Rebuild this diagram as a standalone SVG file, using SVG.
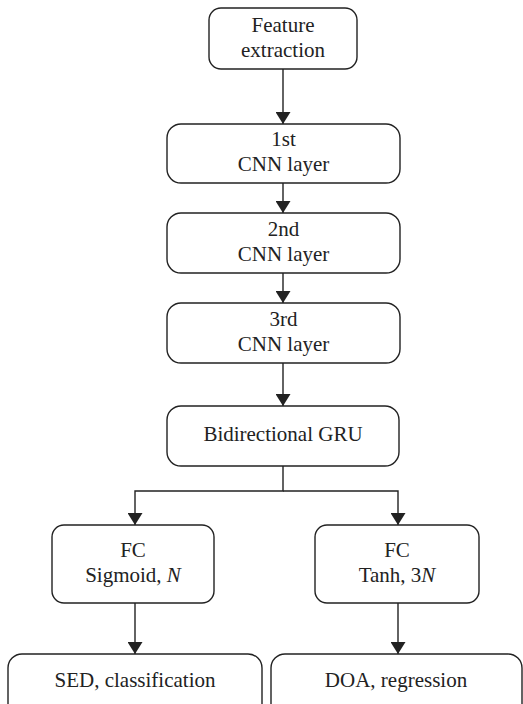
<svg xmlns="http://www.w3.org/2000/svg" width="523" height="704" viewBox="0 0 523 704">
  <style>
    .box { fill: #ffffff; stroke: #222222; stroke-width: 1.4; }
    .lbl { font-family: 'Liberation Serif', 'Times New Roman', Tinos, 'DejaVu Serif', serif; font-size: 21px; fill: #222222; text-anchor: middle; }
    .wire { fill: none; stroke: #222222; stroke-width: 1.4; }
  </style>
  <defs>
    <marker id="head" viewBox="0 0 12 15" refX="12" refY="7.5" markerWidth="12" markerHeight="15" markerUnits="userSpaceOnUse" orient="auto">
      <path d="M0,0 L12,7.5 L0,15 Z" fill="#222222"/>
    </marker>
  </defs>
  <rect width="523" height="704" fill="#ffffff"/>

  <g id="connectors">
    <line class="wire" x1="283" y1="69" x2="283" y2="124" marker-end="url(#head)"/>
    <line class="wire" x1="283" y1="183" x2="283" y2="213" marker-end="url(#head)"/>
    <line class="wire" x1="283" y1="273" x2="283" y2="303" marker-end="url(#head)"/>
    <line class="wire" x1="283" y1="363" x2="283" y2="406" marker-end="url(#head)"/>
    <polyline class="wire" points="283,466 283,491 135,491 135,525" marker-end="url(#head)"/>
    <polyline class="wire" points="283,491 398,491 398,525" marker-end="url(#head)"/>
    <line class="wire" x1="135" y1="603" x2="135" y2="654" marker-end="url(#head)"/>
    <line class="wire" x1="398" y1="603" x2="398" y2="654" marker-end="url(#head)"/>
  </g>

  <g id="feature-extraction">
    <rect class="box" x="209" y="8" width="148" height="61" rx="12"/>
    <text class="lbl" x="283" y="32" font-family="Liberation Serif, serif">Feature</text>
    <text class="lbl" x="283" y="57" font-family="Liberation Serif, serif">extraction</text>
  </g>

  <g id="cnn-1">
    <rect class="box" x="167" y="124" width="233" height="59" rx="14"/>
    <text class="lbl" x="283.5" y="146">1st</text>
    <text class="lbl" x="283.5" y="171">CNN layer</text>
  </g>

  <g id="cnn-2">
    <rect class="box" x="167" y="213" width="233" height="60" rx="14"/>
    <text class="lbl" x="283.5" y="236">2nd</text>
    <text class="lbl" x="283.5" y="261">CNN layer</text>
  </g>

  <g id="cnn-3">
    <rect class="box" x="167" y="303" width="233" height="60" rx="14"/>
    <text class="lbl" x="283.5" y="326">3rd</text>
    <text class="lbl" x="283.5" y="351">CNN layer</text>
  </g>

  <g id="bigru">
    <rect class="box" x="167" y="406" width="232" height="60" rx="14"/>
    <text class="lbl" x="283" y="441">Bidirectional GRU</text>
  </g>

  <g id="fc-sed">
    <rect class="box" x="52" y="525" width="162" height="78" rx="12"/>
    <text class="lbl" x="133" y="557">FC</text>
    <text class="lbl" x="133" y="582">Sigmoid, <tspan font-style="italic">N</tspan></text>
  </g>

  <g id="fc-doa">
    <rect class="box" x="315" y="525" width="164" height="78" rx="12"/>
    <text class="lbl" x="397" y="557">FC</text>
    <text class="lbl" x="397" y="582">Tanh, 3<tspan font-style="italic">N</tspan></text>
  </g>

  <g id="sed-output">
    <rect class="box" x="8" y="654" width="254" height="70" rx="14"/>
    <text class="lbl" x="135" y="687">SED, classification</text>
  </g>

  <g id="doa-output">
    <rect class="box" x="271" y="654" width="251" height="70" rx="14"/>
    <text class="lbl" x="396" y="687">DOA, regression</text>
  </g>
</svg>
